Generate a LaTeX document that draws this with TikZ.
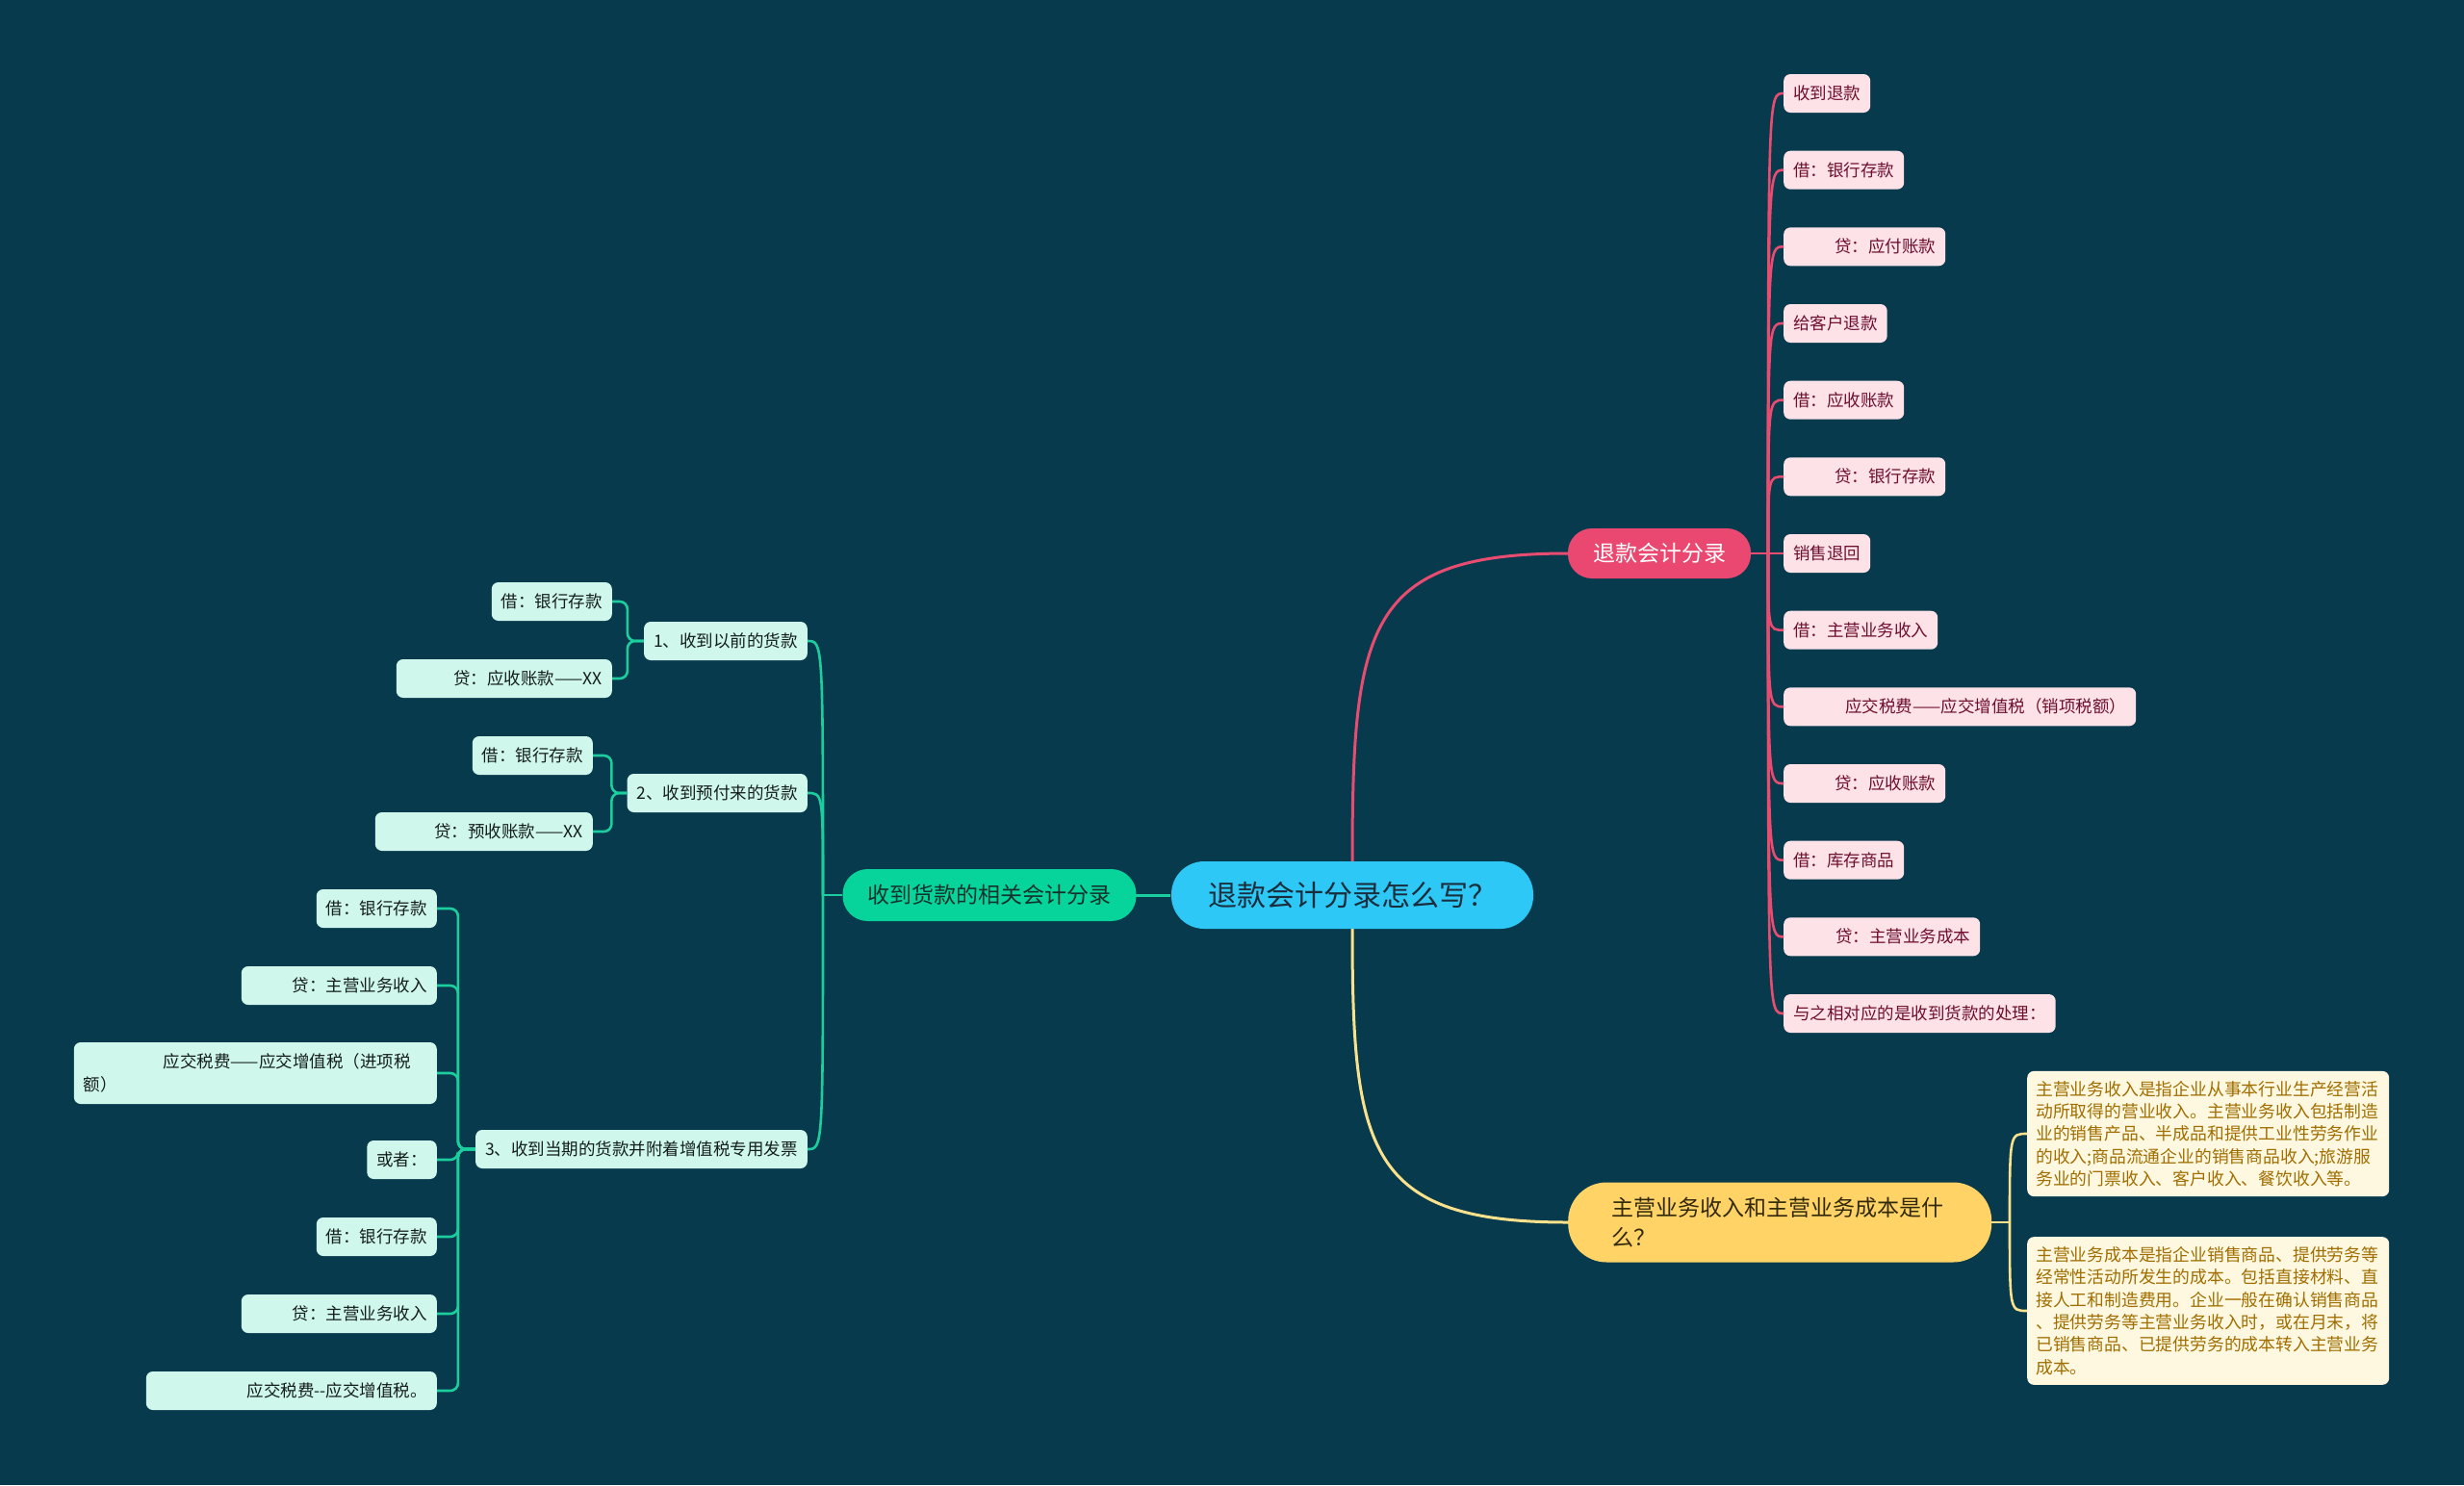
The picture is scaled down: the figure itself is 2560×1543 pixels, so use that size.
\documentclass[tikz,border=0pt]{standalone}
\usepackage{fontspec}
\newfontfamily\cjk{Noto Sans CJK SC}
\definecolor{bg}{RGB}{8,58,77}
\definecolor{rootfill}{RGB}{46,200,246}
\definecolor{roottext}{RGB}{25,45,60}
\definecolor{gfill}{RGB}{6,212,154}
\definecolor{gtext}{RGB}{20,50,45}
\definecolor{glinec}{RGB}{28,206,158}
\definecolor{gleaffill}{RGB}{208,247,236}
\definecolor{gleaftext}{RGB}{20,30,30}
\definecolor{pfill}{RGB}{234,72,112}
\definecolor{plinec}{RGB}{232,76,112}
\definecolor{pleaffill}{RGB}{253,226,232}
\definecolor{pleaftext}{RGB}{110,15,45}
\definecolor{yfill}{RGB}{255,211,102}
\definecolor{ytext}{RGB}{50,40,10}
\definecolor{ylinec}{RGB}{250,225,140}
\definecolor{yleaffill}{RGB}{255,248,225}
\definecolor{yleaftext}{RGB}{160,110,0}
\begin{document}
\begin{tikzpicture}[x=1pt,y=-1pt,
  rootnode/.style={fill=rootfill, text=roottext, rounded corners=34pt, inner xsep=38pt, inner ysep=0pt, minimum height=70pt, font=\cjk\fontsize{30pt}{36pt}\selectfont},
  gbranch/.style={fill=gfill, text=gtext, rounded corners=26pt, inner xsep=26pt, inner ysep=0pt, minimum height=54pt, font=\cjk\fontsize{23pt}{28pt}\selectfont},
  pbranch/.style={fill=pfill, text=white, rounded corners=25pt, inner xsep=26pt, inner ysep=0pt, minimum height=52pt, font=\cjk\fontsize{23pt}{28pt}\selectfont},
  ybranch/.style={fill=yfill, text=ytext, rounded corners=40pt, inner xsep=45pt, inner ysep=4pt, minimum height=83pt, text width=350pt, align=left, font=\cjk\fontsize{23pt}{31pt}\selectfont},
  leafbox/.style={rounded corners=7pt, inner xsep=10pt, inner ysep=0pt, minimum height=40pt, font=\cjk\fontsize{17.5pt}{23.4pt}\selectfont},
  pleaf/.style={leafbox, fill=pleaffill, text=pleaftext, anchor=west},
  gleaf/.style={leafbox, fill=gleaffill, text=gleaftext, anchor=east},
  yleaf/.style={fill=yleaffill, text=yleaftext, rounded corners=7pt, inner xsep=9pt, inner ysep=10pt, text width=358pt, align=left, anchor=west, font=\cjk\fontsize{17.8pt}{23.4pt}\selectfont},
  mainline/.style={line width=3pt},
  subline/.style={line width=2.6pt},
  pline/.style={subline, draw=plinec},
  gline/.style={subline, draw=glinec},
  yline/.style={subline, draw=ylinec}
]
\useasboundingbox (0,0) rectangle (2560,1543);
\fill[bg] (0,0) rectangle (2560,1543);

% ---- connectors from the root
\draw[mainline, draw=plinec] (1405,895) .. controls (1405,650) and (1420,575) .. (1629,575);
\draw[mainline, draw=ylinec] (1405,965) .. controls (1405,1195) and (1420,1270) .. (1629,1270);
\draw[mainline, draw=glinec] (1216,930) -- (1180,930);

% ---- main nodes
\node[rootnode] (root) at (1405,930) {退款会计分录怎么写？};
\node[gbranch] (g) at (1028,930) {收到货款的相关会计分录};
\node[pbranch] (p) at (1724,575) {退款会计分录};
\node[ybranch, anchor=west] (y) at (1629,1270) {主营业务收入和主营业务成本是什\\么？};

% ---- pink leaves
\node[pleaf] (p1) at (1853,97) {收到退款};
\node[pleaf] (p2) at (1853,176.7) {借：银行存款};
\node[pleaf, text width=148pt, align=right] (p3) at (1853,256.3) {贷：应付账款};
\node[pleaf] (p4) at (1853,336) {给客户退款};
\node[pleaf] (p5) at (1853,415.7) {借：应收账款};
\node[pleaf, text width=148pt, align=right] (p6) at (1853,495.3) {贷：银行存款};
\node[pleaf] (p7) at (1853,575) {销售退回};
\node[pleaf] (p8) at (1853,654.7) {借：主营业务收入};
\node[pleaf, text width=346pt, align=right] (p9) at (1853,734.3) {应交税费——应交增值税（销项税额）};
\node[pleaf, text width=148pt, align=right] (p10) at (1853,814) {贷：应收账款};
\node[pleaf] (p11) at (1853,893.7) {借：库存商品};
\node[pleaf, text width=184pt, align=right] (p12) at (1853,973.3) {贷：主营业务成本};
\node[pleaf] (p13) at (1853,1053) {与之相对应的是收到货款的处理：};

\coordinate (pt) at (1837,575);
\draw[pline] (p.east) -- (pt);
\foreach \n in {p1,p2,p3,p4,p5,p6,p7,p8,p9,p10,p11,p12,p13}
  \draw[pline] (pt) .. controls (pt |- \n.west) .. (\n.west);

% ---- green children
\node[gleaf] (c1) at (839,666) {1、收到以前的货款};
\node[gleaf] (c2) at (839,824) {2、收到预付来的货款};
\node[gleaf] (c3) at (839,1194) {3、收到当期的货款并附着增值税专用发票};

\coordinate (gt) at (855,930);
\draw[gline] (g.west) -- (gt);
\foreach \n in {c1,c2,c3}
  \draw[gline] (gt) .. controls (gt |- \n.east) .. (\n.east);

\node[gleaf] (c11) at (636,625) {借：银行存款};
\node[gleaf, text width=204pt, align=right] (c12) at (636,705) {贷：应收账款——XX};
\node[gleaf] (c21) at (616,785) {借：银行存款};
\node[gleaf, text width=206pt, align=right] (c22) at (616,864) {贷：预收账款——XX};

\draw[gline, rounded corners=8pt] (c1.west) -- ++(-17,0) |- (c11.east);
\draw[gline, rounded corners=8pt] (c1.west) -- ++(-17,0) |- (c12.east);
\draw[gline, rounded corners=8pt] (c2.west) -- ++(-16,0) |- (c21.east);
\draw[gline, rounded corners=8pt] (c2.west) -- ++(-16,0) |- (c22.east);

\node[gleaf] (c31) at (454,944) {借：银行存款};
\node[gleaf, text width=183pt, align=right] (c32) at (454,1024) {贷：主营业务收入};
\node[gleaf, text width=357pt, align=left, minimum height=64pt] (c33) at (454,1115) {\hspace*{83pt}应交税费——应交增值税（进项税\\额）};
\node[gleaf] (c34) at (454,1205) {或者：};
\node[gleaf] (c35) at (454,1285) {借：银行存款};
\node[gleaf, text width=183pt, align=right] (c36) at (454,1365) {贷：主营业务收入};
\node[gleaf, text width=282pt, align=right] (c37) at (454,1445) {应交税费-{}-应交增值税。};

\foreach \n in {c31,c32,c33,c34,c35,c36,c37}
  \draw[gline, rounded corners=8pt] (c3.west) -- ++(-18,0) |- (\n.east);

% ---- yellow children
\node[yleaf] (ya) at (2106,1178) {主营业务收入是指企业从事本行业生产经营活\\动所取得的营业收入。主营业务收入包括制造\\业的销售产品、半成品和提供工业性劳务作业\\的收入;商品流通企业的销售商品收入;旅游服\\务业的门票收入、客户收入、餐饮收入等。};
\node[yleaf] (yb) at (2106,1362) {主营业务成本是指企业销售商品、提供劳务等\\经常性活动所发生的成本。包括直接材料、直\\接人工和制造费用。企业一般在确认销售商品\\、提供劳务等主营业务收入时，或在月末，将\\已销售商品、已提供劳务的成本转入主营业务\\成本。};

\coordinate (yt) at (2088,1270);
\draw[yline] (y.east) -- (yt);
\draw[yline] (yt) .. controls (yt |- ya.west) .. (ya.west);
\draw[yline] (yt) .. controls (yt |- yb.west) .. (yb.west);
\end{tikzpicture}
\end{document}
